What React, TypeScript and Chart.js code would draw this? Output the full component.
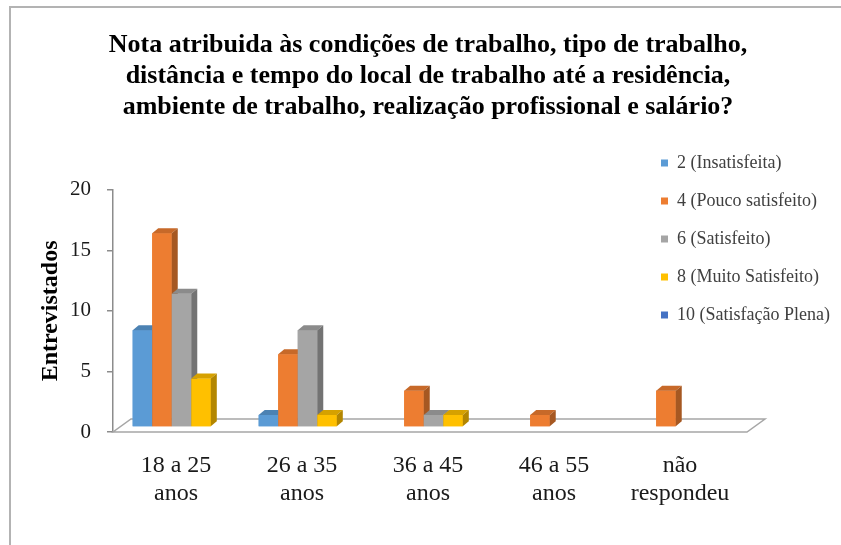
import { useEffect, useRef } from 'react';
import { Chart, registerables } from 'chart.js';

Chart.register(...registerables);

const categories = [
  ['18 a 25', 'anos'],
  ['26 a 35', 'anos'],
  ['36 a 45', 'anos'],
  ['46 a 55', 'anos'],
  ['não', 'respondeu'],
];
const seriesLabels = [
  '2 (Insatisfeita)',
  '4 (Pouco satisfeito)',
  '6 (Satisfeito)',
  '8 (Muito Satisfeito)',
  '10 (Satisfação Plena)',
];
const insatisfeita = [8, 1, 0, 0, 0];
const poucoSatisfeito = [16, 6, 3, 1, 3];
const satisfeito = [11, 8, 1, 0, 0];
const muitoSatisfeito = [4, 1, 1, 0, 0];
const satisfacaoPlena = [0, 0, 0, 0, 0];
const yMin = 0;
const yMax = 20;
const yStep = 5;
const titleLines = [
  'Nota atribuida às condições de trabalho, tipo de trabalho,',
  'distância e tempo do local de trabalho até a residência,',
  'ambiente de trabalho, realização profissional e salário?',
];
const yAxisTitle = 'Entrevistados';
const seriesColors = ['#5B9BD5', '#ED7D31', '#A5A5A5', '#FFC000', '#4472C4'];

const FONT = "'Liberation Serif', 'Times New Roman', serif";
const SHIFT_X = 5.5;
const SHIFT_Y = -5;
const DEPTH_X = 6;
const DEPTH_Y = -5;
const FLOOR_DX = 18;
const FLOOR_DY = -13;

function shade(hex: string, f: number) {
  const n = parseInt(hex.slice(1), 16);
  const r = Math.round(((n >> 16) & 255) * f);
  const g = Math.round(((n >> 8) & 255) * f);
  const b = Math.round((n & 255) * f);
  return `rgb(${r},${g},${b})`;
}

const bar3d = {
  id: 'bar3d',
  afterLayout(chart: any) {
    const lg = chart.legend;
    if (lg) {
      const w = lg.width;
      lg.left = 641;
      lg.right = 641 + w;
      lg.top = 134;
      lg.bottom = 434;
    }
    const tb = chart.titleBlock;
    if (tb) {
      tb.left = 15;
      tb.right = 841;
    }
  },
  beforeDatasetsDraw(chart: any) {
    const { ctx, chartArea: a } = chart;
    ctx.save();
    ctx.beginPath();
    ctx.moveTo(a.left, a.bottom);
    ctx.lineTo(a.right + 4, a.bottom);
    ctx.lineTo(a.right + 4 + FLOOR_DX, a.bottom + FLOOR_DY);
    ctx.lineTo(a.left + FLOOR_DX, a.bottom + FLOOR_DY);
    ctx.closePath();
    ctx.fillStyle = '#ffffff';
    ctx.fill();
    ctx.strokeStyle = '#a6a6a6';
    ctx.lineWidth = 1.5;
    ctx.stroke();
    ctx.restore();
    ctx.save();
    ctx.translate(SHIFT_X, SHIFT_Y);
  },
  afterDatasetsDraw(chart: any) {
    const { ctx } = chart;
    const n = chart.data.labels.length;
    const ds = chart.data.datasets;
    for (let c = 0; c < n; c++) {
      for (let d = 0; d < ds.length; d++) {
        const v = ds[d].data[c];
        if (!v) continue;
        const el = chart.getDatasetMeta(d).data[c];
        const { x, y, base, width } = el.getProps(['x', 'y', 'base', 'width'], true);
        const l = x - width / 2;
        const r = x + width / 2;
        const col = seriesColors[d];
        ctx.fillStyle = col;
        ctx.fillRect(l, y, width, base - y);
        ctx.fillStyle = shade(col, 0.84);
        ctx.beginPath();
        ctx.moveTo(l, y);
        ctx.lineTo(l + DEPTH_X, y + DEPTH_Y);
        ctx.lineTo(r + DEPTH_X, y + DEPTH_Y);
        ctx.lineTo(r, y);
        ctx.closePath();
        ctx.fill();
        ctx.fillStyle = shade(col, 0.7);
        ctx.beginPath();
        ctx.moveTo(r, y);
        ctx.lineTo(r + DEPTH_X, y + DEPTH_Y);
        ctx.lineTo(r + DEPTH_X, base + DEPTH_Y);
        ctx.lineTo(r, base);
        ctx.closePath();
        ctx.fill();
      }
    }
    ctx.restore();
  },
};

export default function App() {
  const ref = useRef<HTMLCanvasElement>(null);
  useEffect(() => {
    if (!ref.current) return;
    Chart.defaults.font.family = FONT;
    const series = [insatisfeita, poucoSatisfeito, satisfeito, muitoSatisfeito, satisfacaoPlena];
    const chart = new Chart(ref.current, {
      type: 'bar',
      data: {
        labels: categories,
        datasets: series.map((s, i) => ({
          label: seriesLabels[i],
          data: s,
          backgroundColor: seriesColors[i],
          borderWidth: 0,
          categoryPercentage: 0.775,
          barPercentage: 1,
        })),
      },
      options: {
        responsive: false,
        animation: false,
        layout: { padding: { left: 0, right: 98, top: 0, bottom: 0 } },
        plugins: {
          title: {
            display: true,
            text: titleLines,
            color: '#000',
            font: { family: FONT, size: 26, weight: 'bold', lineHeight: 1.19 },
            padding: { top: 30, bottom: 67 },
          },
          legend: {
            position: 'chartArea',
            align: 'start',
            labels: {
              boxWidth: 7,
              boxHeight: 7,
              padding: 20,
              color: '#404040',
              font: { family: FONT, size: 18 },
            },
          },
          tooltip: { enabled: false },
        },
        scales: {
          x: {
            grid: { display: false },
            border: { display: false },
            ticks: {
              font: { family: FONT, size: 24, lineHeight: 1.2 },
              color: '#1a1a1a',
              padding: 11,
              maxRotation: 0,
              autoSkip: false,
            },
            afterFit: (s: any) => {
              s.height = 113;
            },
          },
          y: {
            min: yMin,
            max: yMax,
            ticks: {
              stepSize: yStep,
              font: { family: FONT, size: 21 },
              color: '#1a1a1a',
              padding: 16,
            },
            grid: { drawOnChartArea: false, drawTicks: true, tickLength: 6, color: '#8c8c8c', lineWidth: 1.5 },
            border: { display: true, color: '#8c8c8c', width: 1.5 },
            title: {
              display: true,
              text: yAxisTitle,
              color: '#000',
              font: { family: FONT, size: 24, weight: 'bold' },
              padding: { top: 36, bottom: 0 },
            },
            afterFit: (s: any) => {
              s.width = 113;
            },
          },
        },
      },
      plugins: [bar3d],
    } as any);
    return () => chart.destroy();
  }, []);
  return (
    <div style={{ position: 'fixed', left: 0, top: 0, width: 841, height: 545, background: '#fff', overflow: 'hidden' }}>
      <canvas ref={ref} width={841} height={545} style={{ position: 'absolute', left: 0, top: 0, width: 841, height: 545 }} />
      <div
        style={{
          position: 'absolute',
          left: 9,
          top: 6,
          width: 900,
          height: 600,
          borderTop: '2px solid #b3b3b3',
          borderLeft: '2px solid #b3b3b3',
          pointerEvents: 'none',
        }}
      />
    </div>
  );
}
